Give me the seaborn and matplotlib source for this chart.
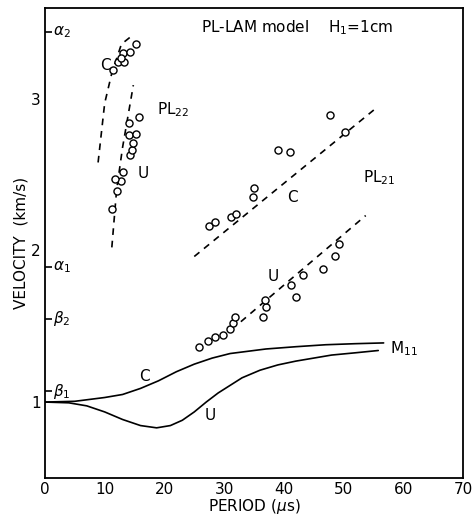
import matplotlib
matplotlib.use('Agg')
import matplotlib.pyplot as plt
import pandas as pd
import seaborn as sns

# M11 mode (solid curves)
m11_c_period = [0, 5, 10, 13, 16, 19, 22, 25, 28, 31, 34, 37, 42, 47, 52, 56.7]
m11_c_vel = [1.0, 1.005, 1.03, 1.05, 1.09, 1.14, 1.2, 1.25, 1.29, 1.32, 1.335, 1.35, 1.365, 1.378, 1.385, 1.39]
m11_u_period = [0, 4, 7, 10, 13, 16, 18.7, 21, 23, 25, 27, 29, 31, 33, 36, 39, 42, 45, 48, 52, 55.8]
m11_u_vel = [1.0, 0.995, 0.975, 0.935, 0.885, 0.845, 0.83, 0.845, 0.88, 0.935, 1.0, 1.06, 1.11, 1.16, 1.21, 1.245, 1.27, 1.29, 1.31, 1.325, 1.34]

# PL22 mode (dashed theory + observed circles)
pl22_c_period = [8.9, 10.0, 11.2, 12.8, 14.7]
pl22_c_vel = [2.58, 2.97, 3.17, 3.36, 3.42]
pl22_u_period = [11.2, 12.0, 13.0, 14.8]
pl22_u_vel = [2.02, 2.40, 2.68, 3.09]
obs22_c_period = [11.4, 12.2, 13.2, 13.0, 14.3, 15.3, 12.8]
obs22_c_vel = [3.19, 3.24, 3.24, 3.30, 3.31, 3.36, 3.27]
obs22_u_period = [11.3, 12.0, 12.7, 11.7, 13.0, 14.2, 14.5, 14.8, 14.0, 15.3, 14.0, 15.7]
obs22_u_vel = [2.27, 2.39, 2.46, 2.47, 2.52, 2.63, 2.66, 2.71, 2.76, 2.77, 2.84, 2.88]

# PL21 mode
pl21_c_period = [25.0, 55.8]
pl21_c_vel = [1.96, 2.95]
pl21_u_period = [32.8, 53.7]
pl21_u_vel = [1.53, 2.23]
obs21_c_period = [27.4, 28.5, 31.2, 32.0, 34.8, 35.0, 39.0, 41.0, 47.7, 50.2]
obs21_c_vel = [2.16, 2.19, 2.22, 2.24, 2.35, 2.41, 2.66, 2.65, 2.89, 2.78]
obs21_u_period = [25.8, 27.3, 28.4, 29.8, 31.0, 31.5, 31.8, 36.5, 37.0, 36.8, 41.2, 42.0, 43.2, 46.5, 48.5, 49.3]
obs21_u_vel = [1.36, 1.40, 1.43, 1.44, 1.48, 1.52, 1.56, 1.56, 1.63, 1.67, 1.77, 1.69, 1.84, 1.88, 1.96, 2.04]

# layer velocities marked on the y axis
layer_names = [r'$\alpha_2$', r'$\alpha_1$', r'$\beta_2$', r'$\beta_1$']
layer_vel = [3.44, 1.89, 1.55, 1.07]

sns.set_style('white')
plt.rcParams['font.family'] = ['DejaVu Sans']
plt.rcParams['mathtext.fontset'] = 'dejavusans'
plt.rcParams['text.color'] = 'black'
plt.rcParams['axes.labelcolor'] = 'black'
plt.rcParams['xtick.color'] = 'black'
plt.rcParams['ytick.color'] = 'black'

fig = plt.figure(figsize=(4.73, 5.2), dpi=100)
ax = fig.add_axes([0.095, 0.081, 0.884, 0.904])

line_kw = dict(color='black', linewidth=1.2, ax=ax, legend=False)
dash_kw = dict(color='black', linewidth=1.2, ax=ax, legend=False, linestyle=(0, (4, 3.5)))
dot_kw = dict(facecolor='white', edgecolor='black', s=26, linewidth=1.0, ax=ax, legend=False, zorder=3)

sns.lineplot(x=m11_c_period, y=m11_c_vel, **line_kw)
sns.lineplot(x=m11_u_period, y=m11_u_vel, **line_kw)
sns.lineplot(x=pl22_c_period, y=pl22_c_vel, **dash_kw)
sns.lineplot(x=pl22_u_period, y=pl22_u_vel, **dash_kw)
sns.lineplot(x=pl21_c_period, y=pl21_c_vel, **dash_kw)
sns.lineplot(x=pl21_u_period, y=pl21_u_vel, **dash_kw)

for px, pv in [(obs22_c_period, obs22_c_vel), (obs22_u_period, obs22_u_vel),
               (obs21_c_period, obs21_c_vel), (obs21_u_period, obs21_u_vel)]:
    sns.scatterplot(x=px, y=pv, **dot_kw)

ax.set_xlim(0, 70)
ax.set_ylim(0.5, 3.6)
ax.set_xticks(range(0, 71, 10))
ax.set_yticks([1, 2, 3])
ax.set_yticks(layer_vel, minor=True)
ax.tick_params(axis='both', which='major', direction='in', length=10, width=1.2,
               labelsize=11, pad=3, colors='black')
ax.tick_params(axis='y', which='minor', direction='in', length=5, width=1.2, left=True)
ax.tick_params(axis='x', which='major', length=7)
for s in ax.spines.values():
    s.set_linewidth(1.3)
    s.set_color('black')

for name, v in zip(layer_names, layer_vel):
    ax.text(1.3, v, name, fontsize=11, va='center', ha='left')

ax.set_xlabel(r'PERIOD ($\mu$s)', fontsize=11, labelpad=0)
ax.set_ylabel('VELOCITY  (km/s)', fontsize=11, labelpad=2)

tk = dict(fontsize=11, color='black')
ax.text(26.2, 3.47, r'PL-LAM model    H$_1$=1cm', va='center', **tk)
ax.text(18.8, 2.93, r'PL$_{22}$', va='center', **tk)
ax.text(53.3, 2.48, r'PL$_{21}$', va='center', **tk)
ax.text(57.8, 1.35, r'M$_{11}$', va='center', **tk)
ax.text(9.2, 3.22, 'C', va='center', **tk)
ax.text(15.5, 2.51, 'U', va='center', **tk)
ax.text(40.5, 2.35, 'C', va='center', **tk)
ax.text(37.2, 1.83, 'U', va='center', **tk)
ax.text(15.8, 1.17, 'C', va='center', **tk)
ax.text(26.8, 0.91, 'U', va='center', **tk)

fig.savefig('out.png', dpi=100)
